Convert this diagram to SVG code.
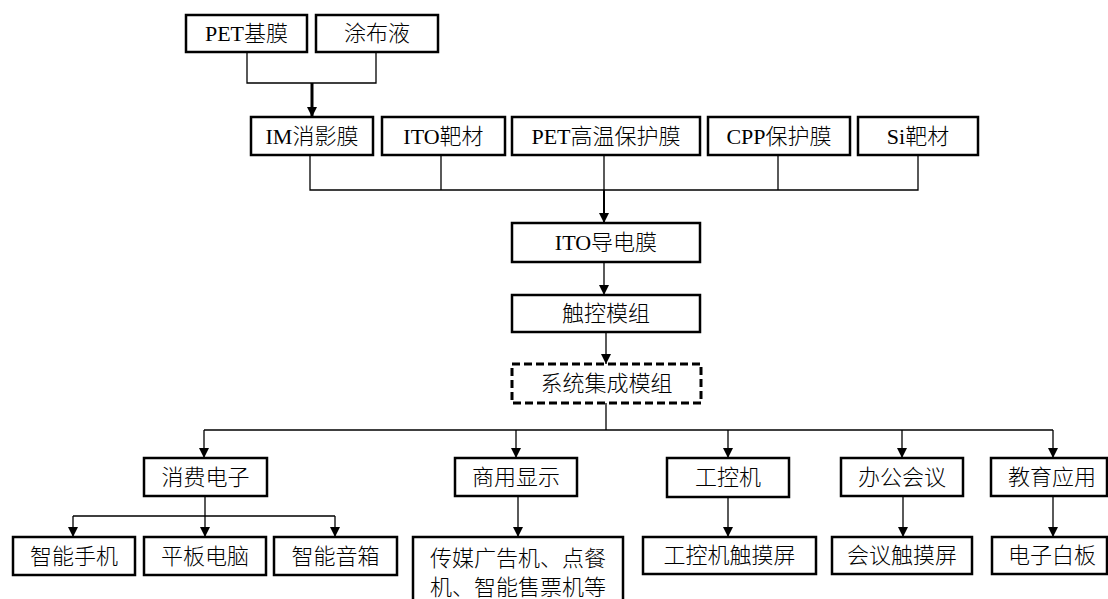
<svg xmlns="http://www.w3.org/2000/svg" width="1108" height="599" viewBox="0 0 1108 599">
<defs>
<style>
.box{fill:#fff;stroke:#000;stroke-width:2.5}
.dash{fill:#fff;stroke:#000;stroke-width:3;stroke-dasharray:8 4}
.t{font-family:"Liberation Serif","Noto Sans CJK SC",serif;font-size:22px;font-weight:300;fill:#000;text-anchor:middle;dominant-baseline:central}
.c{fill:none;stroke:#000;stroke-width:1.3}
.ca{fill:none;stroke:#000;stroke-width:1.3;marker-end:url(#arr)}
</style>
<marker id="arr" markerUnits="userSpaceOnUse" markerWidth="10" markerHeight="11" refX="10" refY="5" orient="auto" viewBox="0 0 10 10">
<path d="M0,0 L10,5 L0,10 z" fill="#000"/>
</marker>
</defs>
<rect width="1108" height="599" fill="#fff"/>
<g id="connectors">
<path class="c" d="M247,52 V83 H376 V52"/>
<path class="ca" style="stroke-width:3" d="M312,83 V117"/>
<path class="c" d="M310,155 V190 H918 V155"/>
<path class="c" d="M441,155 V190"/>
<path class="c" d="M778,155 V190"/>
<path class="c" d="M604,155 V190"/>
<path class="ca" style="stroke-width:2" d="M604,190 V223"/>
<path class="ca" d="M604,262 V295"/>
<path class="ca" d="M606,332 V364"/>
<path class="c" d="M606,403 V430"/>
<path class="c" d="M204,430 H1053"/>
<path class="ca" d="M204,430 V458"/>
<path class="ca" d="M516,430 V458"/>
<path class="ca" d="M728,430 V458"/>
<path class="ca" d="M902,430 V458"/>
<path class="ca" d="M1053,430 V458"/>
<path class="c" d="M205,496 V516 M73,516 H335"/>
<path class="ca" d="M73,516 V537"/>
<path class="ca" d="M205,516 V537"/>
<path class="ca" d="M335,516 V537"/>
<path class="ca" d="M518,496 V537"/>
<path class="ca" d="M728,497 V537"/>
<path class="ca" d="M903,496 V537"/>
<path class="ca" d="M1053,496 V537"/>
</g>
<g id="n-pet"><rect class="box" x="186" y="15" width="121" height="37"/><text class="t" x="246.5" y="33.5">PET基膜</text></g>
<g id="n-coat"><rect class="box" x="316" y="15" width="122" height="37"/><text class="t" x="377" y="33.5">涂布液</text></g>
<g id="n-im"><rect class="box" x="251" y="117" width="122" height="38"/><text class="t" x="312" y="136">IM消影膜</text></g>
<g id="n-ito"><rect class="box" x="382" y="117" width="123" height="38"/><text class="t" x="443.5" y="136">ITO靶材</text></g>
<g id="n-petp"><rect class="box" x="512" y="117" width="188" height="38"/><text class="t" x="606" y="136">PET高温保护膜</text></g>
<g id="n-cpp"><rect class="box" x="708" y="117" width="142" height="38"/><text class="t" x="779" y="136">CPP保护膜</text></g>
<g id="n-si"><rect class="box" x="858" y="117" width="120" height="38"/><text class="t" x="918" y="136">Si靶材</text></g>
<g id="n-itof"><rect class="box" x="512" y="223" width="188" height="39"/><text class="t" x="606" y="242.5">ITO导电膜</text></g>
<g id="n-touch"><rect class="box" x="512" y="295" width="188" height="37"/><text class="t" x="606" y="313.5">触控模组</text></g>
<g id="n-sys"><rect class="dash" x="512" y="364" width="189" height="39"/><text class="t" x="606.5" y="383.5">系统集成模组</text></g>
<g id="n-consumer"><rect class="box" x="144" y="458" width="123" height="38"/><text class="t" x="205.5" y="477">消费电子</text></g>
<g id="n-commercial"><rect class="box" x="455" y="458" width="122" height="38"/><text class="t" x="516" y="477">商用显示</text></g>
<g id="n-ipc"><rect class="box" x="667" y="458" width="122" height="39"/><text class="t" x="728" y="477.5">工控机</text></g>
<g id="n-office"><rect class="box" x="841" y="458" width="122" height="38"/><text class="t" x="902" y="477">办公会议</text></g>
<g id="n-edu"><rect class="box" x="991" y="458" width="116" height="38"/><text class="t" x="1052" y="477">教育应用</text></g>
<g id="n-phone"><rect class="box" x="13" y="537" width="122" height="38"/><text class="t" x="74" y="556">智能手机</text></g>
<g id="n-tablet"><rect class="box" x="144" y="537" width="122" height="38"/><text class="t" x="205" y="556">平板电脑</text></g>
<g id="n-speaker"><rect class="box" x="274" y="537" width="123" height="38"/><text class="t" x="335.5" y="556">智能音箱</text></g>
<g id="n-media"><rect class="box" x="413" y="537" width="210" height="75"/><text class="t" x="518" y="558">传媒广告机、点餐</text><text class="t" x="518" y="587">机、智能售票机等</text></g>
<g id="n-ipcts"><rect class="box" x="643" y="537" width="173" height="37"/><text class="t" x="729.5" y="555.5">工控机触摸屏</text></g>
<g id="n-meetts"><rect class="box" x="832" y="537" width="140" height="37"/><text class="t" x="902" y="555.5">会议触摸屏</text></g>
<g id="n-board"><rect class="box" x="992" y="537" width="115" height="37"/><text class="t" x="1052" y="555.5">电子白板</text></g>
</svg>
